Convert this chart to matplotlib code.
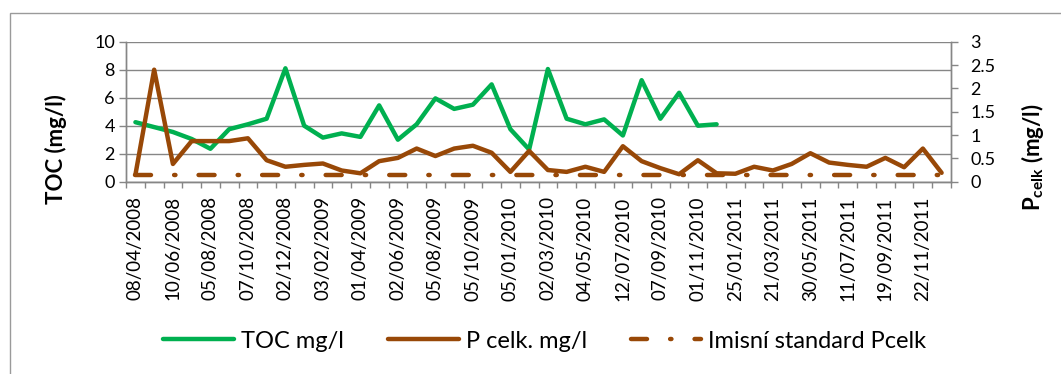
import numpy as np
import matplotlib
matplotlib.use("Agg")
import matplotlib.pyplot as plt
from matplotlib.lines import Line2D
from matplotlib.patches import Rectangle

plt.rcParams['font.family'] = ['Lato', 'DejaVu Sans']
plt.rcParams['mathtext.fontset'] = 'custom'
plt.rcParams['mathtext.rm'] = 'Lato'
plt.rcParams['mathtext.bf'] = 'Lato:bold'

# sampling dates shown on the axis (every second sample is labelled)
date_labels = ['08/04/2008', '10/06/2008', '05/08/2008', '07/10/2008', '02/12/2008',
               '03/02/2009', '01/04/2009', '02/06/2009', '05/08/2009', '05/10/2009',
               '05/01/2010', '02/03/2010', '04/05/2010', '12/07/2010', '07/09/2010',
               '01/11/2010', '25/01/2011', '21/03/2011', '30/05/2011', '11/07/2011',
               '19/09/2011', '22/11/2011']
n_samples = 44

toc = [4.25, 3.9, 3.55, 3.05, 2.35, 3.75, 4.1, 4.5, 8.1, 4.0, 3.15, 3.45, 3.2, 5.45,
       3.0, 4.1, 5.95, 5.2, 5.5, 6.95, 3.75, 2.3, 8.05, 4.5, 4.1, 4.45, 3.3, 7.25,
       4.5, 6.35, 4.0, 4.1]

p_celk = [0.15, 2.4, 0.38, 0.87, 0.87, 0.87, 0.93, 0.46, 0.32, 0.36, 0.39, 0.24,
          0.18, 0.44, 0.51, 0.71, 0.55, 0.71, 0.77, 0.62, 0.21, 0.66, 0.25, 0.21,
          0.32, 0.21, 0.76, 0.44, 0.29, 0.16, 0.46, 0.18, 0.17, 0.32, 0.24, 0.38,
          0.61, 0.41, 0.36, 0.32, 0.51, 0.31, 0.71, 0.19]

p_limit = [0.15] * n_samples

green = '#00B050'
brown = '#984807'
grey = '#868686'
lw = 3.2
dash = (3.6, 5.2, 0.3, 5.2)

fig = plt.figure(figsize=(10.61, 3.74), dpi=100)
ax = fig.add_axes([0.1188, 0.5142, 0.7775, 0.3743])
ax2 = ax.twinx()

x = np.arange(n_samples)

ax.plot(x[:len(toc)], toc, color=green, lw=lw, solid_joinstyle='round',
        solid_capstyle='round', label='TOC mg/l')
ax2.plot(x, p_celk, color=brown, lw=lw, solid_joinstyle='round',
         solid_capstyle='round', label='P celk. mg/l')
ax2.plot(x, p_limit, color=brown, lw=lw, dashes=dash,
         dash_capstyle='round', label='Imisní standard Pcelk')

ax.set_xlim(-0.5, n_samples - 0.5)
ax.set_ylim(0, 10)
ax.set_yticks(np.arange(0, 11, 2))
ax2.set_ylim(0, 3)
ax2.set_yticks(np.arange(0, 3.01, 0.5))
ax2.set_yticklabels(['0', '0.5', '1', '1.5', '2', '2.5', '3'])

ax.yaxis.grid(True, color=grey, lw=1.0)
ax.set_axisbelow(True)

# tick marks between categories, labels on every second category
ax.set_xticks(np.arange(-0.5, n_samples, 1))
ax.set_xticklabels([])
ax.set_xticks(np.arange(0, n_samples, 2), minor=True)
ax.set_xticklabels(date_labels, minor=True, rotation=90, fontsize=13.5)
ax.tick_params(axis='x', which='major', direction='out', length=4.5, width=1, color=grey)
ax.tick_params(axis='x', which='minor', length=0, pad=10.5)

ax.tick_params(axis='y', direction='out', length=5, width=1, color=grey, pad=3,
               labelsize=13)
ax2.tick_params(axis='y', direction='out', length=5, width=1, color=grey, pad=9,
                labelsize=13)

for a in (ax, ax2):
    for s in a.spines.values():
        s.set_color(grey)
        s.set_linewidth(1.0)
    a.spines['top'].set_visible(False)

fig.text(56 / 1061, (374 - 149) / 374, 'TOC (mg/l)', rotation=90, ha='center',
         va='center', fontsize=16, fontweight='bold')
fig.text(1033 / 1061, (374 - 157) / 374, r'$\mathbf{P}_{\mathbf{celk}}$ (mg/l)',
         rotation=90, ha='center', va='center', fontsize=16, fontweight='bold')

handles = [Line2D([], [], color=green, lw=lw, solid_capstyle='round'),
           Line2D([], [], color=brown, lw=lw, solid_capstyle='round'),
           Line2D([], [], color=brown, lw=lw, dashes=dash, dash_capstyle='round')]
fig.legend(handles, ['TOC mg/l', 'P celk. mg/l', 'Imisní standard Pcelk'],
           loc='center', bbox_to_anchor=(545 / 1061, 0.088), ncol=3, frameon=False,
           fontsize=17, handlelength=3.0, handletextpad=0.3, columnspacing=1.85)

# chart area border
fig.add_artist(Rectangle((10 / 1061, -0.1), 2, (374 - 12.7) / 374 + 0.1,
                         transform=fig.transFigure, fill=False, ec='#9a9a9a', lw=1))

fig.savefig('out.png', dpi=100)
